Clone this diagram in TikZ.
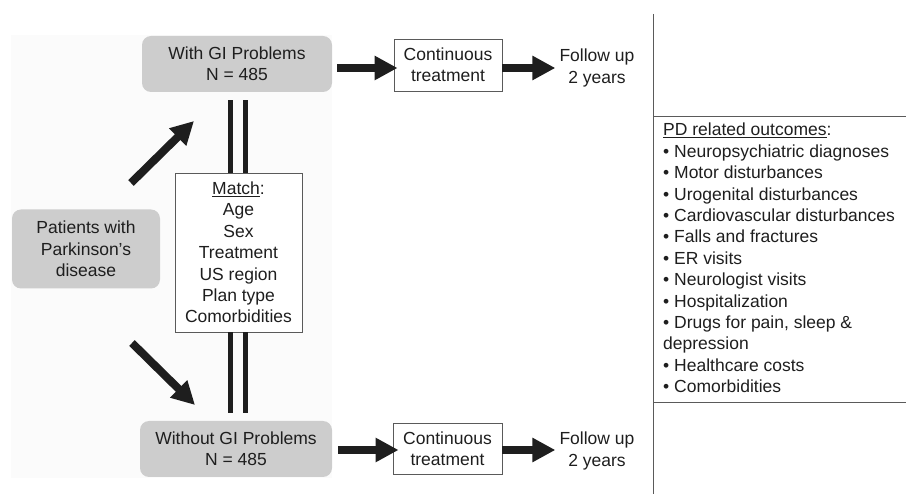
\documentclass[tikz,border=0pt]{standalone}
\usepackage{fontspec}
\setmainfont{Liberation Sans}
\usetikzlibrary{arrows.meta,calc}
\definecolor{boxgray}{RGB}{205,205,205}
\definecolor{inkc}{RGB}{30,30,30}
\definecolor{edgec}{RGB}{90,90,90}
\definecolor{panelc}{RGB}{251,251,251}
\begin{document}
\begin{tikzpicture}[x=1pt,y=-1pt,
  every node/.style={font=\fontsize{17.5}{21.4}\selectfont, text=inkc, align=center, inner sep=0pt},
  graybox/.style={fill=boxgray, rounded corners=9pt},
  whitebox/.style={draw=edgec, line width=0.9pt, fill=white},
  bigarrow/.style={draw=inkc, line width=8pt, -{Triangle[length=23pt,width=23pt,fill=inkc]}},
  bar/.style={draw=inkc, line width=5pt},
  rule/.style={draw=edgec, line width=1pt}]
\useasboundingbox (0,0) rectangle (906,494);
\fill[panelc] (11,35) rectangle (332,478);
% nodes
\node[graybox, minimum width=190pt, minimum height=56pt] (gi) at (237,64) {With GI Problems\\N = 485};
\node[graybox, minimum width=192pt, minimum height=56pt] (nogi) at (236,449) {Without GI Problems\\N = 485};
\node[graybox, minimum width=148pt, minimum height=79pt] (pat) at (86,249) {Patients with\\Parkinson’s\\disease};
\node[whitebox, minimum width=127pt, minimum height=159pt] (match) at (238.5,252.5) {\underline{Match}:\\Age\\Sex\\Treatment\\US region\\Plan type\\Comorbidities};
\node[whitebox, minimum width=108pt, minimum height=52pt] (ct1) at (448,65) {Continuous\\treatment};
\node[whitebox, minimum width=109pt, minimum height=51pt] (ct2) at (447.5,448.5) {Continuous\\treatment};
\node (fu1) at (597,68) {Follow up\\2 years};
\node (fu2) at (597,451) {Follow up\\2 years};
\node[align=left, anchor=north west] (out) at (663,123) {\underline{PD related outcomes}:\\
• Neuropsychiatric diagnoses\\
• Motor disturbances\\
• Urogenital disturbances\\
• Cardiovascular disturbances\\
• Falls and fractures\\
• ER visits\\
• Neurologist visits\\
• Hospitalization\\
• Drugs for pain, sleep \&\\
depression\\
• Healthcare costs\\
• Comorbidities};
% arrows
\draw[bigarrow] ($(gi.east)+(5,4)$) -- ($(ct1.west)+(4,3)$);
\draw[bigarrow] ($(ct1.east)+(0,3)$) -- ($(fu1.west)+(-4,0)$);
\draw[bigarrow] ($(nogi.east)+(6,1)$) -- ($(ct2.west)+(6,1.5)$);
\draw[bigarrow] ($(ct2.east)+(0,1.5)$) -- ($(fu2.west)+(-4,-1)$);
\coordinate (u1) at (131,183);
\coordinate (u2) at (194,121);
\coordinate (d1) at (132,343);
\coordinate (d2) at (195,405);
\draw[bigarrow] (u1) -- (u2);
\draw[bigarrow] (d1) -- (d2);
% matching bars
\draw[bar] ($(gi.south)+(-6.5,8)$) -- ($(match.north)+(-8,0)$);
\draw[bar] ($(gi.south)+(8.5,8)$) -- ($(match.north)+(7,0)$);
\draw[bar] ($(match.south)+(-8,0)$) -- ($(nogi.north)+(-5.5,-8)$);
\draw[bar] ($(match.south)+(7,0)$) -- ($(nogi.north)+(9.5,-8)$);
% rules
\coordinate (vtop) at (653,14);
\coordinate (vbot) at (653,494);
\coordinate (h1r) at (906,117);
\coordinate (h2r) at (906,403);
\draw[rule] (vtop) -- (vbot);
\draw[rule] (vtop |- h1r) -- (h1r);
\draw[rule] (vtop |- h2r) -- (h2r);
\end{tikzpicture}
\end{document}
